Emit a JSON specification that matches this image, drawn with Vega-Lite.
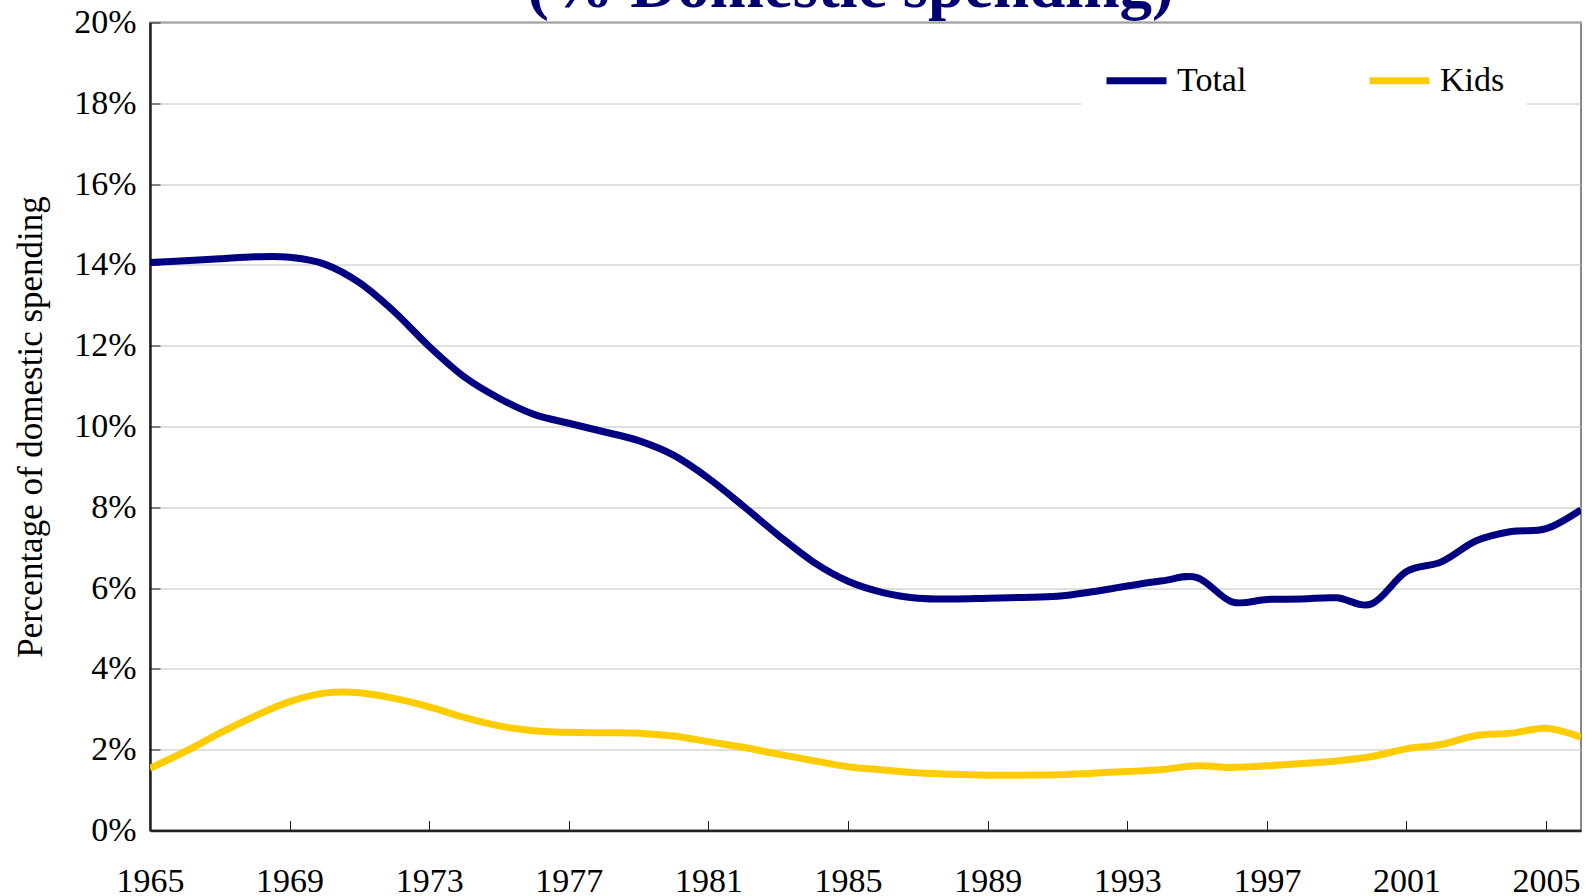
{
  "$schema": "https://vega.github.io/schema/vega-lite/v6.json",
  "autosize": {"type": "none"},
  "width": 1431,
  "height": 808,
  "padding": {"left": 150, "top": 22.5, "right": 6, "bottom": 65.5},
  "background": "white",
  "title": {
    "text": "(% Domestic spending)",
    "font": "Liberation Serif",
    "fontSize": 65,
    "fontWeight": "bold",
    "color": "#000070",
    "anchor": "middle",
    "frame": "group",
    "baseline": "alphabetic",
    "offset": -66.5,
    "dx": -15
  },
  "config": {
    "view": {"stroke": "#888888", "strokeWidth": 2},
    "font": "Liberation Serif"
  },
  "data": {
    "values": [
      {"year": 1965, "series": "Total", "value": 14.06},
      {"year": 1966, "series": "Total", "value": 14.10},
      {"year": 1967, "series": "Total", "value": 14.15},
      {"year": 1968, "series": "Total", "value": 14.20},
      {"year": 1969, "series": "Total", "value": 14.19},
      {"year": 1970, "series": "Total", "value": 14.02},
      {"year": 1971, "series": "Total", "value": 13.56},
      {"year": 1972, "series": "Total", "value": 12.84},
      {"year": 1973, "series": "Total", "value": 11.98},
      {"year": 1974, "series": "Total", "value": 11.23},
      {"year": 1975, "series": "Total", "value": 10.70},
      {"year": 1976, "series": "Total", "value": 10.30},
      {"year": 1977, "series": "Total", "value": 10.08},
      {"year": 1978, "series": "Total", "value": 9.87},
      {"year": 1979, "series": "Total", "value": 9.65},
      {"year": 1980, "series": "Total", "value": 9.29},
      {"year": 1981, "series": "Total", "value": 8.72},
      {"year": 1982, "series": "Total", "value": 8.03},
      {"year": 1983, "series": "Total", "value": 7.31},
      {"year": 1984, "series": "Total", "value": 6.65},
      {"year": 1985, "series": "Total", "value": 6.17},
      {"year": 1986, "series": "Total", "value": 5.89},
      {"year": 1987, "series": "Total", "value": 5.75},
      {"year": 1988, "series": "Total", "value": 5.73},
      {"year": 1989, "series": "Total", "value": 5.75},
      {"year": 1990, "series": "Total", "value": 5.77},
      {"year": 1991, "series": "Total", "value": 5.80},
      {"year": 1992, "series": "Total", "value": 5.91},
      {"year": 1993, "series": "Total", "value": 6.05},
      {"year": 1994, "series": "Total", "value": 6.18},
      {"year": 1995, "series": "Total", "value": 6.26},
      {"year": 1996, "series": "Total", "value": 5.66},
      {"year": 1997, "series": "Total", "value": 5.72},
      {"year": 1998, "series": "Total", "value": 5.73},
      {"year": 1999, "series": "Total", "value": 5.76},
      {"year": 2000, "series": "Total", "value": 5.61},
      {"year": 2001, "series": "Total", "value": 6.41},
      {"year": 2002, "series": "Total", "value": 6.65},
      {"year": 2003, "series": "Total", "value": 7.17},
      {"year": 2004, "series": "Total", "value": 7.40},
      {"year": 2005, "series": "Total", "value": 7.47},
      {"year": 2006, "series": "Total", "value": 7.94},
      {"year": 1965, "series": "Kids", "value": 1.54},
      {"year": 1966, "series": "Kids", "value": 1.95},
      {"year": 1967, "series": "Kids", "value": 2.41},
      {"year": 1968, "series": "Kids", "value": 2.83},
      {"year": 1969, "series": "Kids", "value": 3.19},
      {"year": 1970, "series": "Kids", "value": 3.40},
      {"year": 1971, "series": "Kids", "value": 3.41},
      {"year": 1972, "series": "Kids", "value": 3.27},
      {"year": 1973, "series": "Kids", "value": 3.06},
      {"year": 1974, "series": "Kids", "value": 2.80},
      {"year": 1975, "series": "Kids", "value": 2.59},
      {"year": 1976, "series": "Kids", "value": 2.47},
      {"year": 1977, "series": "Kids", "value": 2.43},
      {"year": 1978, "series": "Kids", "value": 2.42},
      {"year": 1979, "series": "Kids", "value": 2.41},
      {"year": 1980, "series": "Kids", "value": 2.34},
      {"year": 1981, "series": "Kids", "value": 2.20},
      {"year": 1982, "series": "Kids", "value": 2.06},
      {"year": 1983, "series": "Kids", "value": 1.89},
      {"year": 1984, "series": "Kids", "value": 1.73},
      {"year": 1985, "series": "Kids", "value": 1.58},
      {"year": 1986, "series": "Kids", "value": 1.50},
      {"year": 1987, "series": "Kids", "value": 1.43},
      {"year": 1988, "series": "Kids", "value": 1.39},
      {"year": 1989, "series": "Kids", "value": 1.37},
      {"year": 1990, "series": "Kids", "value": 1.37},
      {"year": 1991, "series": "Kids", "value": 1.38},
      {"year": 1992, "series": "Kids", "value": 1.42},
      {"year": 1993, "series": "Kids", "value": 1.46},
      {"year": 1994, "series": "Kids", "value": 1.51},
      {"year": 1995, "series": "Kids", "value": 1.60},
      {"year": 1996, "series": "Kids", "value": 1.56},
      {"year": 1997, "series": "Kids", "value": 1.60},
      {"year": 1998, "series": "Kids", "value": 1.66},
      {"year": 1999, "series": "Kids", "value": 1.72},
      {"year": 2000, "series": "Kids", "value": 1.83},
      {"year": 2001, "series": "Kids", "value": 2.02},
      {"year": 2002, "series": "Kids", "value": 2.13},
      {"year": 2003, "series": "Kids", "value": 2.35},
      {"year": 2004, "series": "Kids", "value": 2.41},
      {"year": 2005, "series": "Kids", "value": 2.53},
      {"year": 2006, "series": "Kids", "value": 2.31}
    ]
  },
  "mark": {"type": "line", "interpolate": "cardinal", "tension": 0, "strokeWidth": 7, "clip": true},
  "encoding": {
    "x": {
      "field": "year",
      "type": "quantitative",
      "scale": {"domain": [1965, 2006], "nice": false, "zero": false},
      "axis": {
        "title": null,
        "values": [1965, 1969, 1973, 1977, 1981, 1985, 1989, 1993, 1997, 2001, 2005],
        "format": "d",
        "grid": false,
        "domainColor": "#222222",
        "domainWidth": 2.5,
        "tickColor": "#222222",
        "tickWidth": 1,
        "tickSize": -10,
        "labelPadding": 44,
        "labelFont": "Liberation Serif",
        "labelFontSize": 34,
        "labelColor": "black",
        "labelFlush": false,
        "labelOverlap": false
      }
    },
    "y": {
      "field": "value",
      "type": "quantitative",
      "scale": {"domain": [0, 20], "nice": false},
      "axis": {
        "title": "Percentage of domestic spending",
        "titleFont": "Liberation Serif",
        "titleFontSize": 35,
        "titleFontWeight": "normal",
        "titleColor": "black",
        "titleX": -109,
        "titleY": 404,
        "titleAngle": -90,
        "titleBaseline": "alphabetic",
        "titleAnchor": "middle",
        "values": [0, 2, 4, 6, 8, 10, 12, 14, 16, 18, 20],
        "labelExpr": "datum.value + '%'",
        "grid": true,
        "gridColor": "#c0c0c0",
        "gridWidth": 1,
        "domainColor": "#222222",
        "domainWidth": 2.5,
        "tickColor": "#222222",
        "tickWidth": 1,
        "tickSize": -10,
        "labelPadding": 24,
        "labelFont": "Liberation Serif",
        "labelFontSize": 34,
        "labelColor": "black",
        "labelFlush": false,
        "labelOverlap": false
      }
    },
    "color": {
      "field": "series",
      "type": "nominal",
      "scale": {"domain": ["Total", "Kids"], "range": ["#000080", "#FFCC00"]},
      "legend": {
        "title": null,
        "orient": "none",
        "direction": "horizontal",
        "legendX": 931,
        "legendY": 2.5,
        "padding": 22,
        "fillColor": "white",
        "strokeColor": null,
        "symbolType": "stroke",
        "symbolSize": 3600,
        "symbolStrokeWidth": 7,
        "labelOffset": 7,
        "labelFont": "Liberation Serif",
        "labelFontSize": 34,
        "labelColor": "black",
        "columnPadding": 108
      }
    }
  }
}
